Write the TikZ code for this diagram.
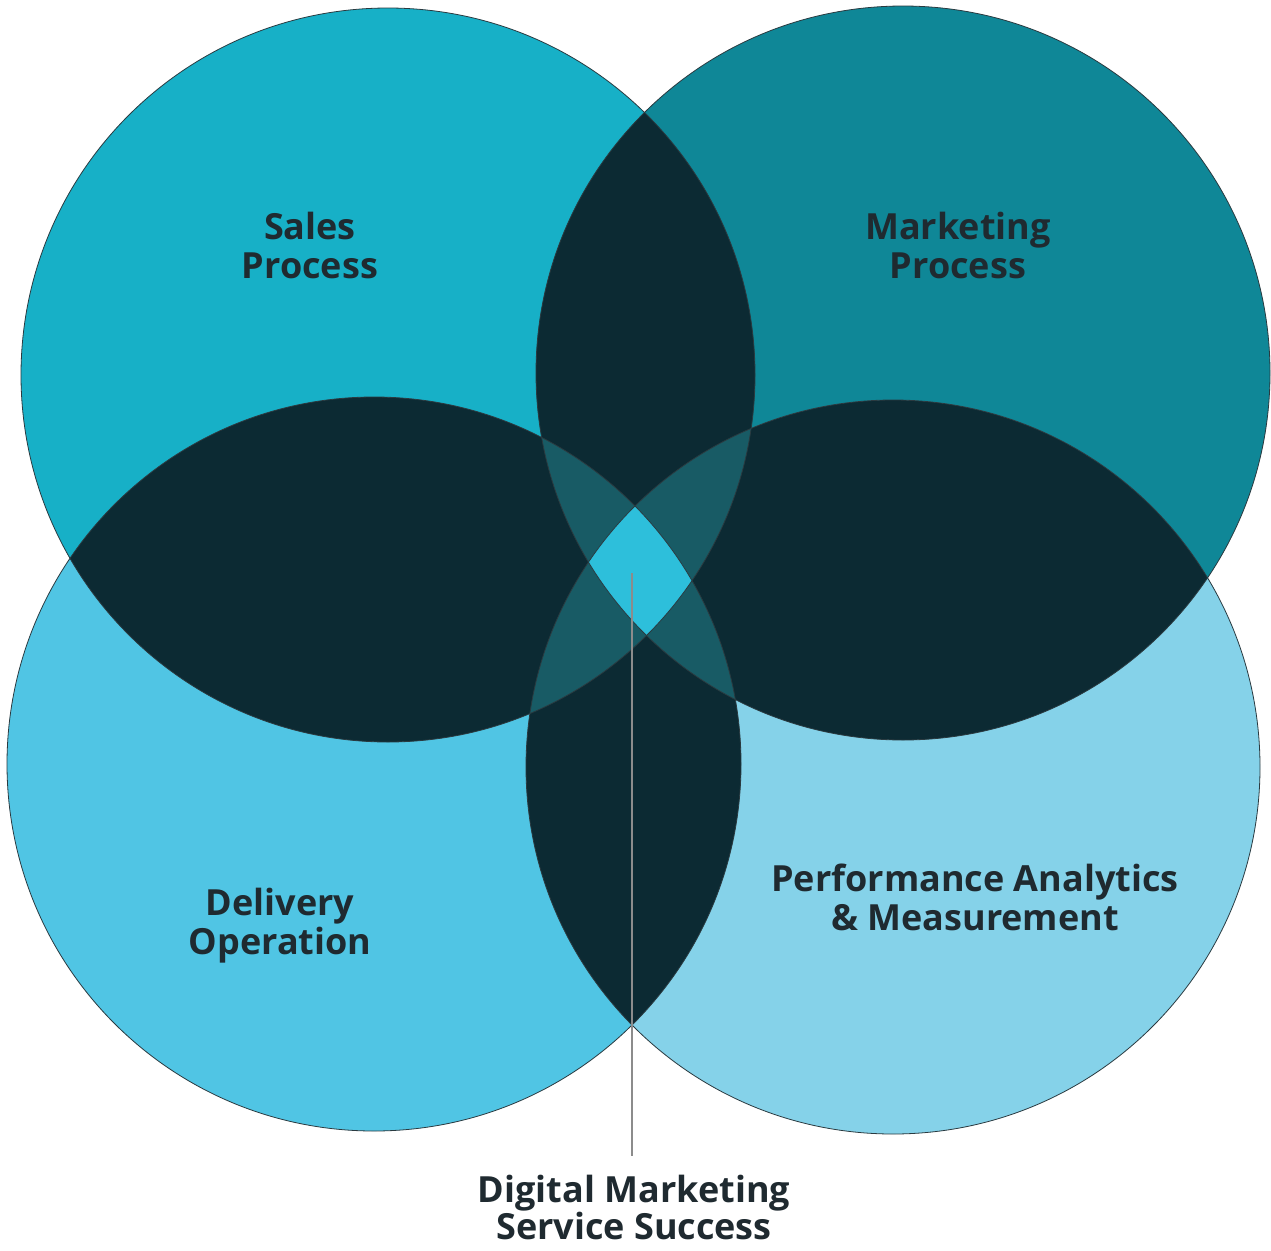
\documentclass[tikz,border=0pt]{standalone}
\usepackage{fontspec}
\setmainfont{Open Sans}
\definecolor{cSales}{HTML}{17B0C7}
\definecolor{cMark}{HTML}{0F8797}
\definecolor{cDeliv}{HTML}{50C5E4}
\definecolor{cPerf}{HTML}{85D2E9}
\definecolor{cTwo}{HTML}{0C2A33}
\definecolor{cThree}{HTML}{185B65}
\definecolor{cFour}{HTML}{2DBFDB}
\definecolor{cText}{HTML}{1F2A30}
\definecolor{cEdge}{HTML}{2A3A40}
\definecolor{cLead}{HTML}{8C8C8C}
\def\pS{(388,375) circle[radius=367pt]}
\def\pM{(903,373) circle[radius=367pt]}
\def\pD{(374,764) circle[radius=367pt]}
\def\pP{(893,767) circle[radius=367pt]}
\begin{document}
\begin{tikzpicture}[x=1pt,y=-1pt,
  lab/.style={font=\bfseries\fontsize{36}{39}\selectfont, text=cText, align=center, inner sep=0pt},
  edge/.style={draw=cEdge, line width=0.8pt},
  leader/.style={draw=cLead, line width=1.5pt}]
\useasboundingbox (0,0) rectangle (1271,1250);
\fill[white] (0,0) rectangle (1271,1250);
% single circles
\fill[cSales] \pS;
\fill[cMark] \pM;
\fill[cDeliv] \pD;
\fill[cPerf] \pP;
% pairwise overlaps
\begin{scope}\clip \pS; \fill[cTwo] \pM; \fill[cTwo] \pD; \fill[cTwo] \pP; \end{scope}
\begin{scope}\clip \pM; \fill[cTwo] \pD; \fill[cTwo] \pP; \end{scope}
\begin{scope}\clip \pD; \fill[cTwo] \pP; \end{scope}
% triple overlaps
\begin{scope}\clip \pS; \clip \pM; \fill[cThree] \pD; \fill[cThree] \pP; \end{scope}
\begin{scope}\clip \pD; \clip \pP; \fill[cThree] \pS; \fill[cThree] \pM; \end{scope}
% quadruple overlap
\begin{scope}\clip \pS; \clip \pM; \clip \pD; \fill[cFour] \pP; \end{scope}
% outlines
\draw[edge] \pS; \draw[edge] \pM; \draw[edge] \pD; \draw[edge] \pP;
% labels
\node[lab] (sales) at (310,245) {Sales\\Process};
\node[lab] (mark) at (958,245) {Marketing\\Process};
\node[lab] (deliv) at (280,926) {Delivery\\Operation};
\node[lab] (perf) at (975,897) {Performance Analytics\\\& Measurement};
\node[lab, font=\bfseries\fontsize{36}{37}\selectfont] (dms) at (634,1207) {Digital Marketing\\Service Success};
\coordinate (lead) at (632,573);
\draw[leader] (lead) -- ([yshift=18pt]dms.north -| lead);
\end{tikzpicture}
\end{document}
